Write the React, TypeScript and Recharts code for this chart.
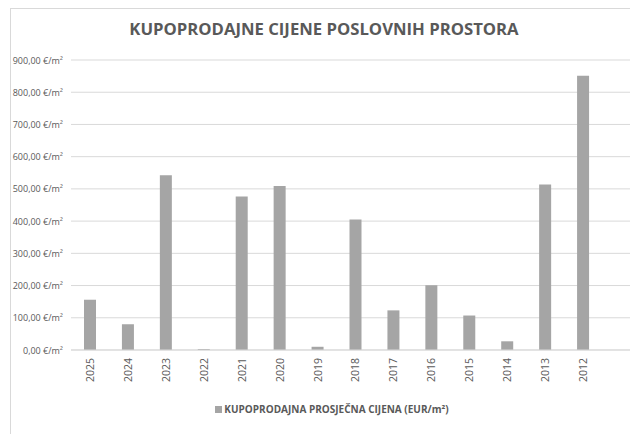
import { Bar, BarChart, CartesianGrid, XAxis, YAxis } from 'recharts';

const years = ['2025', '2024', '2023', '2022', '2021', '2020', '2019', '2018', '2017', '2016', '2015', '2014', '2013', '2012'];
const prices = [156, 80, 542, 3, 476, 509, 10, 405, 123, 201, 107, 27, 514, 851];
const yTicks = [0, 100, 200, 300, 400, 500, 600, 700, 800, 900];

const TITLE = 'KUPOPRODAJNE CIJENE POSLOVNIH PROSTORA';
const SERIES_NAME = 'KUPOPRODAJNA PROSJEČNA CIJENA (EUR/m²)';

const TEXT = '#595959';
const GRID = '#d9d9d9';
const BAR = '#a5a5a5';
const FONT = '"Open Sans", "Liberation Sans", sans-serif';

const data = years.map((year, i) => ({ year, price: prices[i] }));

const formatPrice = (v: number) => `${v.toFixed(2).replace('.', ',')} €/m²`;

function YearTick({ x, y, payload }: any) {
  return (
    <text
      x={x}
      y={y}
      transform={`rotate(-90 ${x} ${y})`}
      textAnchor="end"
      dominantBaseline="central"
      fill={TEXT}
      fontSize={10.5}
      fontFamily={FONT}
    >
      {payload.value}
    </text>
  );
}

function PriceTick({ x, y, payload }: any) {
  return (
    <text
      x={x}
      y={y}
      textAnchor="end"
      dominantBaseline="central"
      fill={TEXT}
      fontSize={9}
      fontFamily={FONT}
    >
      {formatPrice(payload.value)}
    </text>
  );
}

export default function App() {
  return (
    <div
      style={{
        position: 'fixed',
        left: 0,
        top: 0,
        width: 630,
        height: 434,
        overflow: 'hidden',
        background: '#fff',
        fontFamily: FONT,
      }}
    >
      <div
        style={{
          position: 'absolute',
          left: 10,
          top: 8,
          width: 700,
          height: 500,
          border: `1px solid ${GRID}`,
        }}
      />
      <div
        style={{
          position: 'absolute',
          left: 0,
          top: 18,
          width: 648,
          textAlign: 'center',
          color: TEXT,
          fontWeight: 700,
          fontSize: 16.7,
          lineHeight: '22px',
        }}
      >
        {TITLE}
      </div>
      <div style={{ position: 'absolute', left: 0, top: 0 }}>
        <BarChart
          width={640}
          height={434}
          data={data}
          margin={{ top: 60, right: 0, bottom: 34, left: 0 }}
        >
          <CartesianGrid stroke={GRID} vertical={false} />
          <XAxis
            dataKey="year"
            type="category"
            height={50}
            padding={{ left: 0, right: 38 }}
            axisLine={{ stroke: GRID }}
            tickLine={false}
            interval={0}
            tick={<YearTick />}
          />
          <YAxis
            type="number"
            domain={[0, 900]}
            ticks={yTicks}
            width={71}
            axisLine={false}
            tickLine={false}
            tick={<PriceTick />}
          />
          <Bar dataKey="price" fill={BAR} barSize={12} isAnimationActive={false} />
        </BarChart>
      </div>
      <div
        style={{
          position: 'absolute',
          left: 0,
          top: 402,
          width: 664,
          display: 'flex',
          justifyContent: 'center',
          alignItems: 'center',
          color: TEXT,
          fontWeight: 700,
          fontSize: 10,
        }}
      >
        <span style={{ width: 7, height: 7, background: BAR, marginRight: 2, display: 'inline-block' }} />
        <span>{SERIES_NAME}</span>
      </div>
    </div>
  );
}
